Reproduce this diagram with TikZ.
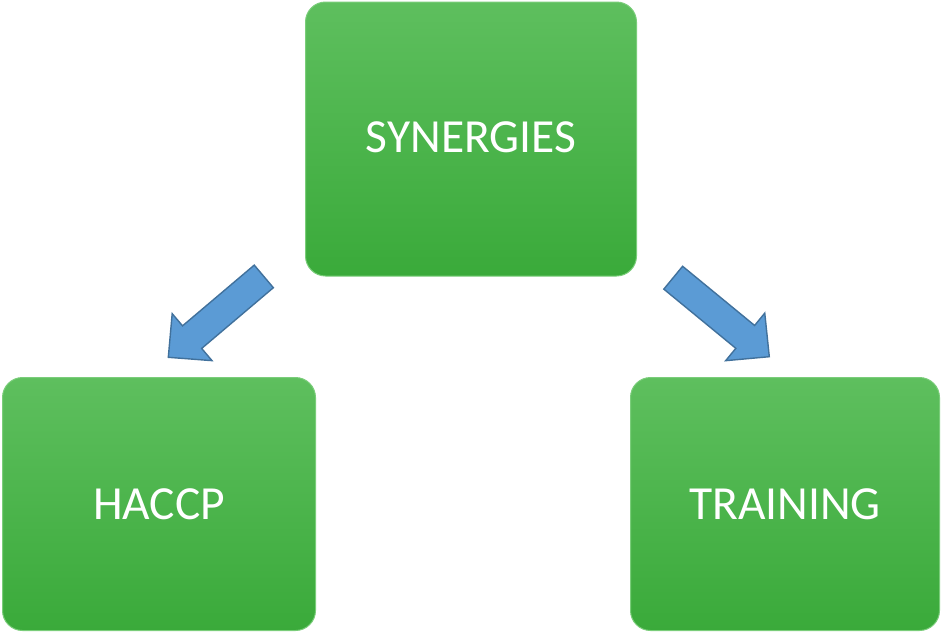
\documentclass[tikz,border=0pt]{standalone}
\usepackage{fontspec}
\setmainfont{Carlito}
\usetikzlibrary{calc}
\definecolor{gtop}{HTML}{5EBF5E}
\definecolor{gbot}{HTML}{3AAA3A}
\definecolor{grim}{HTML}{7ACD7A}
\definecolor{afill}{HTML}{5B9BD5}
\definecolor{aline}{HTML}{41719C}
\tikzset{
  gbox/.style={rectangle, rounded corners=20pt, top color=gtop, bottom color=gbot,
    draw=grim, line width=1pt, text=white, font=\fontsize{47.5}{50}\selectfont, inner sep=0pt},
  blockarrow/.style={fill=afill, draw=aline, line width=1.4pt, line join=miter}
}
\newcommand{\blockarr}[2]{%
  \draw[blockarrow]
    ($(#1)!14.8pt!-90:(#2)$) --
    ($($(#2)!31.2pt!(#1)$)!14.8pt!-90:(#2)$) --
    ($($(#2)!31.2pt!(#1)$)!30.8pt!-90:(#2)$) --
    (#2) --
    ($($(#2)!31.2pt!(#1)$)!30.8pt!90:(#2)$) --
    ($($(#2)!31.2pt!(#1)$)!14.8pt!90:(#2)$) --
    ($(#1)!14.8pt!90:(#2)$) -- cycle;}
\begin{document}
\begin{tikzpicture}[x=1pt,y=-1pt]
\useasboundingbox (0,0) rectangle (942,633);
\node[gbox, minimum width=331pt, minimum height=274pt] (syn) at (471,139) {\raisebox{3pt}{SYNERGIES}};
\node[gbox, minimum width=313pt, minimum height=253pt] (haccp) at (159,504) {HACCP};
\node[gbox, minimum width=309pt, minimum height=253pt] (train) at (785,504) {TRAINING};
\coordinate (l1) at (263.8,276.4);
\coordinate (l2) at (168.3,357.3);
\coordinate (r1) at (673.2,277.7);
\coordinate (r2) at (769.3,356.7);
\blockarr{l1}{l2}
\blockarr{r1}{r2}
\end{tikzpicture}
\end{document}
